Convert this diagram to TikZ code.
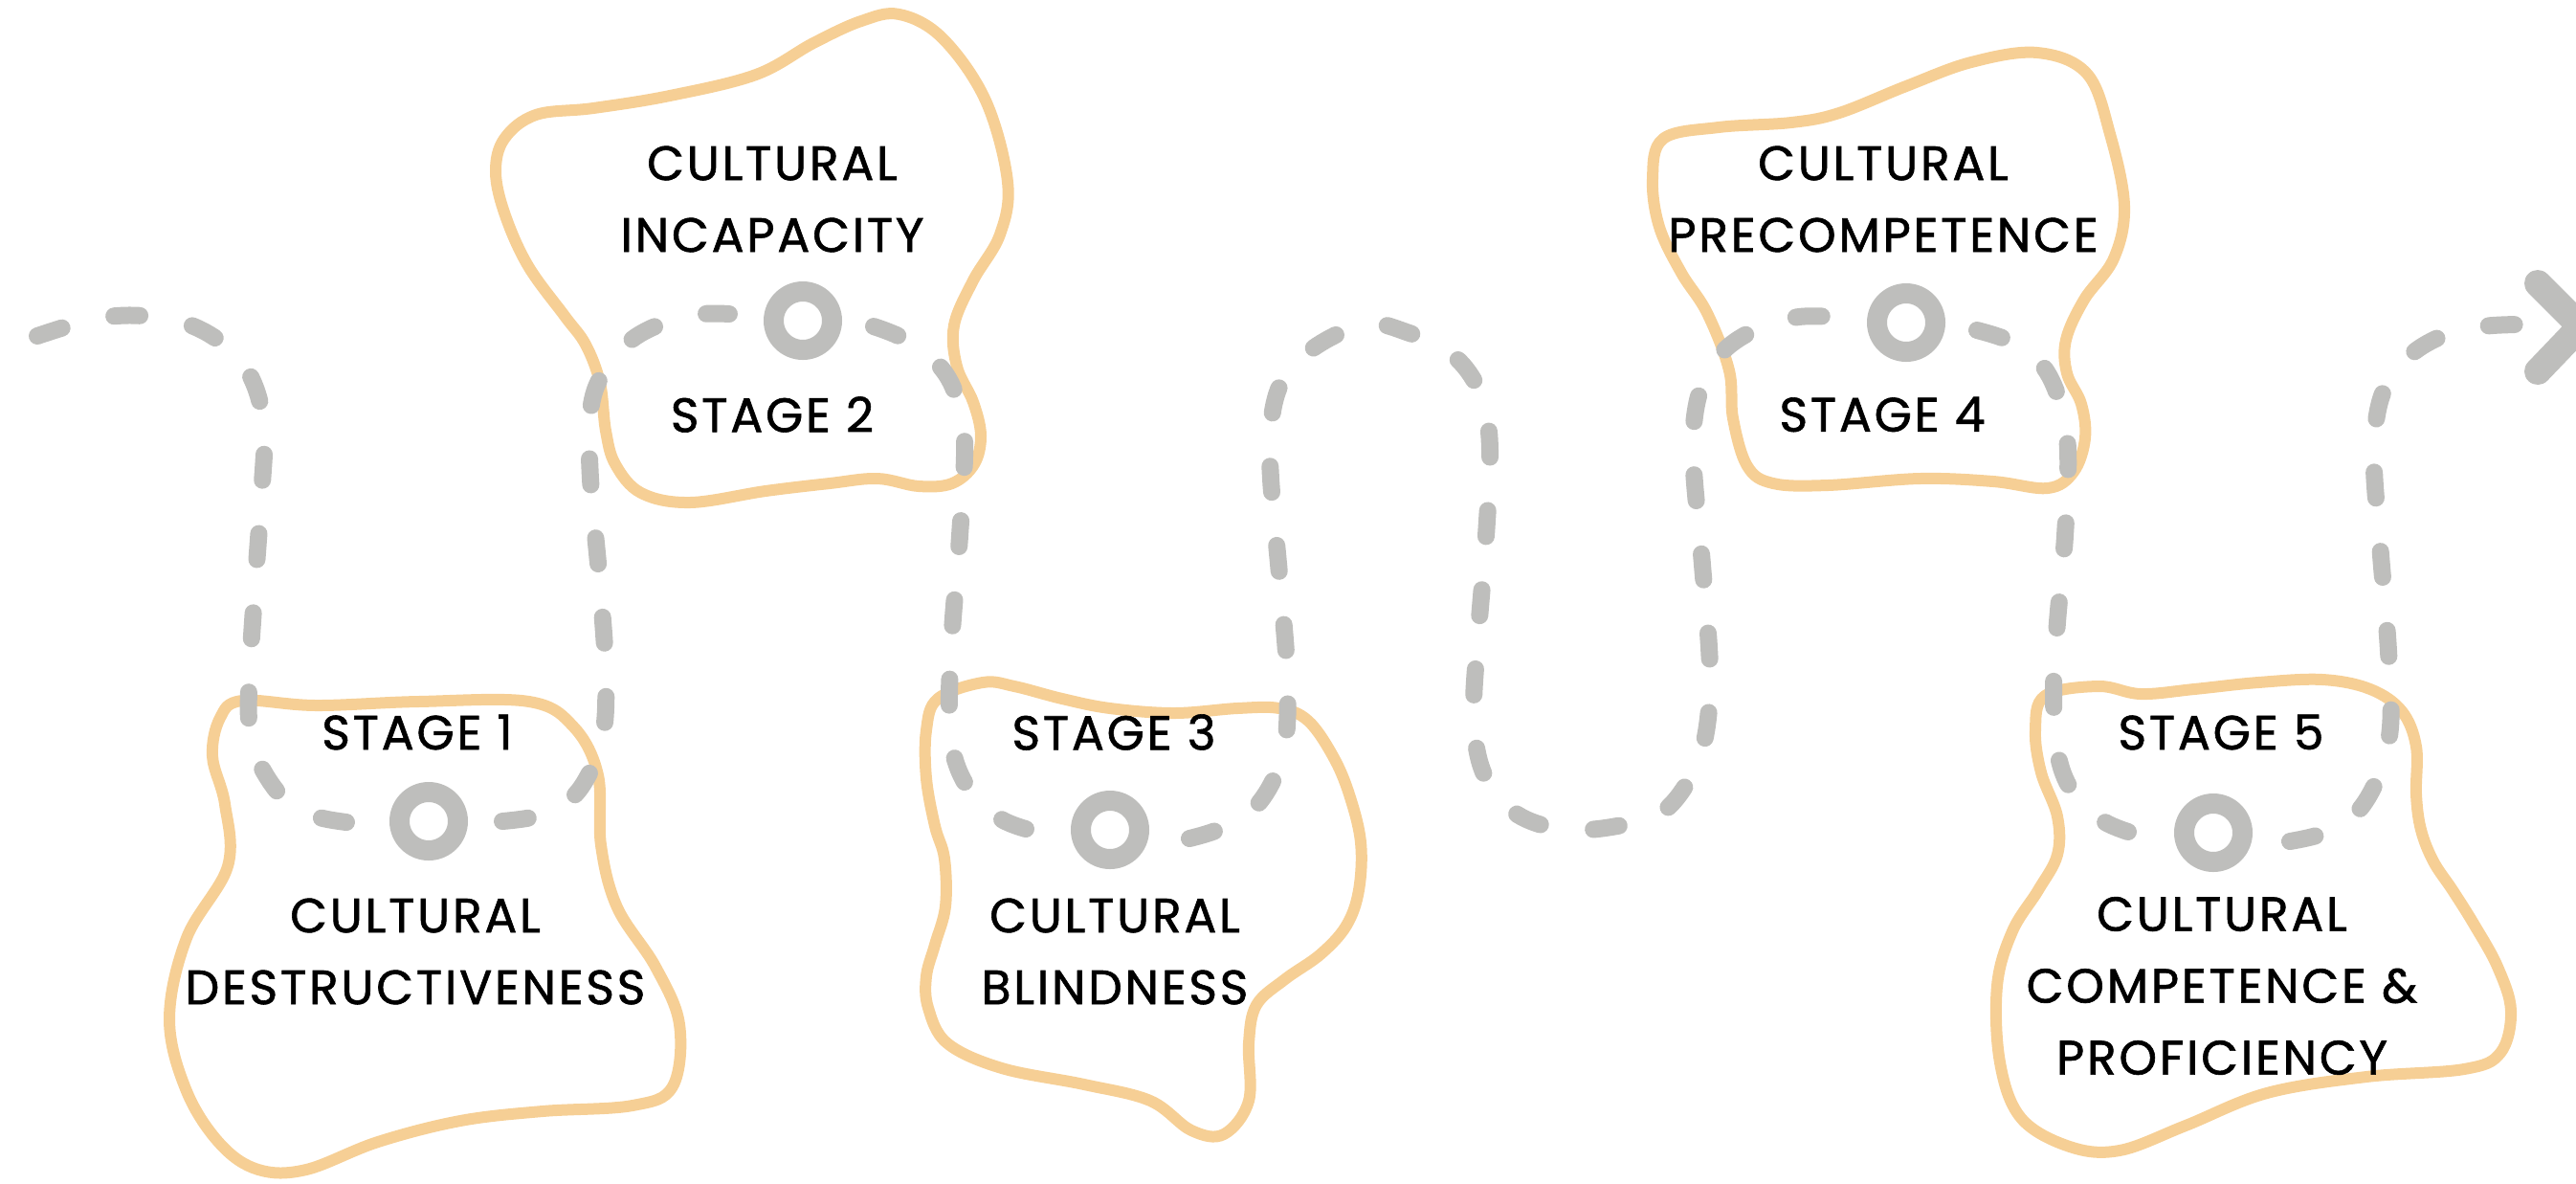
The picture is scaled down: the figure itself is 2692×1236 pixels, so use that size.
\documentclass[tikz,border=0pt]{standalone}
\usepackage{fontspec}
\setmainfont{Poppins}
\newfontfamily\stagefont{Poppins}[LetterSpace=5.5,FakeBold=1.2]
\begin{document}
\begin{tikzpicture}[x=0.25pt,y=0.25pt,yscale=-1,xscale=1,
  blob/.style={color={rgb, 255:red, 246; green, 207; blue, 149 }, line width=3pt, line join=round},
  trail/.style={color={rgb, 255:red, 190; green, 190; blue, 188 }, line width=4.5pt, line cap=round, dash pattern=on 6.75pt off 14pt},
  ring/.style={circle, draw={rgb, 255:red, 190; green, 190; blue, 188 }, line width=5.25pt, fill=white, minimum size=15.25pt, inner sep=0pt},
  lbl/.style={font=\stagefont\fontsize{12.6}{18.75}\selectfont, align=center, inner sep=0pt}]
\useasboundingbox (0,0) rectangle (2692,1236);

%Shape: Free Drawing [stage 1]
\draw [blob] plot [smooth cycle, tension=0.6] coordinates {(253,732) (330,737) (437,733) (553,733) (600,760) (625,810) (628,883) (645,948) (685,1010) (710,1070) (703,1135) (661,1155) (567,1161) (481,1171) (395,1193) (320,1222) (270,1222) (230,1195) (195,1140) (177,1065) (195,980) (238,905) (235,840) (222,790) (230,750)};
%Shape: Free Drawing [stage 2]
\draw [blob] plot [smooth cycle, tension=0.6] coordinates {(560,120) (620,113) (700,100) (790,78) (850,45) (900,22) (940,15) (985,40) (1030,105) (1053,190) (1045,245) (1017,293) (997,340) (1000,383) (1017,420) (1025,455) (1018,485) (995,505) (960,508) (917,500) (867,505) (800,513) (721,525) (670,515) (643,485) (633,450) (627,400) (612,360) (590,330) (552,278) (528,225) (518,180) (527,145)};
%Shape: Free Drawing [stage 3]
\draw [blob] plot [smooth cycle, tension=0.6] coordinates {(980,730) (1027,713) (1060,717) (1110,730) (1160,740) (1227,745) (1293,740) (1337,740) (1367,753) (1393,790) (1410,830) (1422,880) (1420,930) (1407,967) (1380,997) (1343,1023) (1313,1050) (1305,1090) (1305,1150) (1279,1185) (1245,1181) (1202,1150) (1133,1133) (1047,1116) (990,1090) (970,1053) (968,1020) (977,987) (988,947) (987,897) (977,863) (968,813) (968,763)};
%Shape: Free Drawing [stage 4]
\draw [blob] plot [smooth cycle, tension=0.6] coordinates {(1738,145) (1796,133) (1872,128) (1922,118) (1992,90) (2060,65) (2129,55) (2181,77) (2205,140) (2220,215) (2209,270) (2178,313) (2159,355) (2160,390) (2175,422) (2179,458) (2167,493) (2140,510) (2083,503) (2006,500) (1910,507) (1853,505) (1826,487) (1811,437) (1807,387) (1784,327) (1757,285) (1734,237) (1727,187)};
%Shape: Free Drawing [stage 5]
\draw [blob] plot [smooth cycle, tension=0.6] coordinates {(2137,727) (2193,717) (2237,725) (2293,720) (2360,713) (2427,710) (2477,720) (2510,743) (2525,780) (2525,830) (2530,867) (2543,900) (2563,930) (2585,965) (2610,1010) (2624,1056) (2613,1100) (2575,1117) (2473,1125) (2369,1142) (2284,1176) (2215,1202) (2163,1198) (2112,1168) (2090,1110) (2087,1030) (2103,973) (2130,930) (2150,893) (2150,853) (2133,807) (2127,763)};

%Shape: Circle [rings]
\draw (448,858) node (ring1) [ring] {};
\draw (839,335) node (ring2) [ring] {};
\draw (1160,867) node (ring3) [ring] {};
\draw (1992,337) node (ring4) [ring] {};
\draw (2313,870) node (ring5) [ring] {};

%Curve Lines [start to ring1]
\draw [trail] plot [smooth, tension=0.6] coordinates {(39,351) (100,333) (150,330) (200,340) (240,365) (265,400) (276,450) (273,520) (266,620) (260,720) (262,770) (275,805) (300,838) (330,853) (362,859)};
%Curve Lines [ring1 to ring2]
\draw [trail] plot [smooth, tension=0.6] coordinates {(525,858) (560,853) (590,840) (612,815) (630,770) (633,700) (626,600) (617,500) (617,430) (630,390) (660,355) (700,335) (735,328) (762,328)};
%Curve Lines [ring2 to ring3]
\draw [trail] plot [smooth, tension=0.6] coordinates {(913,341) (945,354) (978,378) (998,410) (1008,460) (1003,560) (995,660) (992,740) (997,790) (1015,828) (1045,855) (1072,866)};
%Curve Lines [ring3 to ring4]
\draw [trail] plot [smooth, tension=0.6] coordinates {(1243,876) (1275,866) (1310,845) (1333,810) (1344,770) (1345,700) (1337,600) (1328,500) (1328,445) (1338,402) (1363,371) (1400,348) (1435,338) (1470,347) (1505,362) (1532,385) (1550,420) (1557,470) (1553,560) (1545,660) (1540,740) (1546,795) (1565,832) (1595,856) (1640,867) (1690,863) (1735,850) (1765,815) (1782,770) (1787,700) (1779,590) (1770,490) (1771,435) (1782,395) (1805,363) (1842,341) (1880,331) (1918,331)};
%Curve Lines [ring4 to ring5]
\draw [trail] plot [smooth, tension=0.6] coordinates {(2066,345) (2102,357) (2133,380) (2152,418) (2161,470) (2158,560) (2150,650) (2146,720) (2150,785) (2165,826) (2195,856) (2224,869)};
%Curve Lines [ring5 to end]
\draw [trail] plot [smooth, tension=0.6] coordinates {(2393,879) (2430,870) (2462,850) (2485,812) (2498,760) (2496,680) (2488,580) (2481,490) (2483,440) (2494,402) (2520,370) (2555,350) (2595,341) (2632,339)};
%Shape: Chevron
\coordinate (tip) at (2697,341);
\draw [trail, solid, line width=7pt, line join=round] (2652,296) -- (tip) -- (2652,388);

% Text Node
\draw (436,765) node (stg1) [lbl] {STAGE 1};
% Text Node
\draw (434,994) node (name1) [lbl] {CULTURAL\\DESTRUCTIVENESS};
% Text Node
\draw (807,433) node (stg2) [lbl] {STAGE 2};
% Text Node
\draw (807,208) node (name2) [lbl] {CULTURAL\\INCAPACITY};
% Text Node
\draw (1164,765) node (stg3) [lbl] {STAGE 3};
% Text Node
\draw (1165,994) node (name3) [lbl] {CULTURAL\\BLINDNESS};
% Text Node
\draw (1967,433) node (stg4) [lbl] {STAGE 4};
% Text Node
\draw (1968,208) node (name4) [lbl] {CULTURAL\\PRECOMPETENCE};
% Text Node
\draw (2321,765) node (stg5) [lbl] {STAGE 5};
% Text Node
\draw (2322,1030) node (name5) [lbl] {CULTURAL\\COMPETENCE \&\\PROFICIENCY};

\end{tikzpicture}
\end{document}
